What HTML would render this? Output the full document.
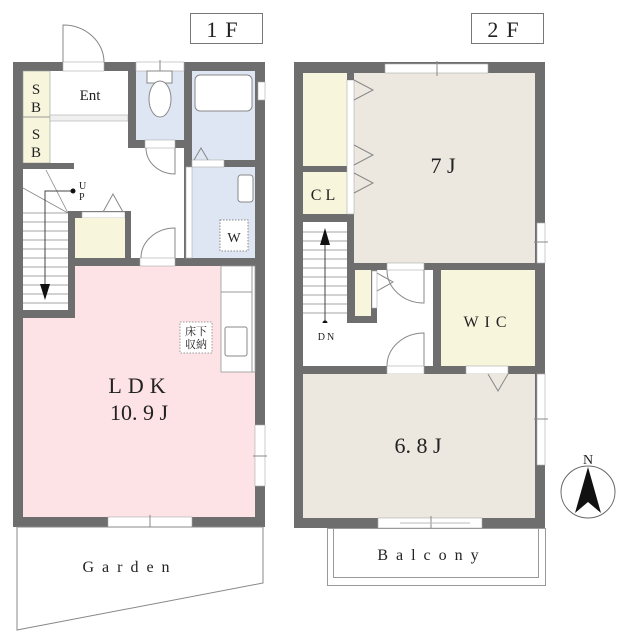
<!DOCTYPE html>
<html><head><meta charset="utf-8"><style>
html,body{margin:0;padding:0;background:#fff;width:627px;height:640px;overflow:hidden}
svg{display:block}
text{font-family:"Liberation Serif","Noto Serif CJK SC",serif;fill:#222}
</style></head><body>
<svg width="627" height="640" viewBox="0 0 627 640" xmlns="http://www.w3.org/2000/svg">
<!-- labels -->
<rect x="190.5" y="13.5" width="72" height="30" fill="#fff" stroke="#777"/>
<text x="226" y="37" font-size="22" text-anchor="middle" letter-spacing="8">1F</text>
<rect x="471.5" y="13.5" width="72" height="30" fill="#fff" stroke="#777"/>
<text x="507" y="37" font-size="22" text-anchor="middle" letter-spacing="8">2F</text>

<!-- ===== 1F ===== -->
<rect x="13" y="62" width="252" height="465" fill="#6e6e6e"/>
<!-- floors -->
<rect x="23" y="71" width="161" height="187" fill="#fff"/>
<rect x="23" y="71" width="27" height="92" fill="#f7f5dc" stroke="#999" stroke-width="0.6"/>
<line x1="23" y1="117" x2="50" y2="117" stroke="#999"/>
<rect x="50" y="115" width="78" height="6" fill="#f0f0f0" stroke="#aaa" stroke-width="0.6"/>
<rect x="128" y="62" width="8" height="86" fill="#6e6e6e"/>
<rect x="136" y="71" width="48" height="69" fill="#dfe6f3"/>
<rect x="136" y="140" width="48" height="8" fill="#6e6e6e"/>
<rect x="192" y="71" width="63" height="89" fill="#dfe6f3"/>
<rect x="195" y="75" width="57" height="36" rx="5" fill="#fff" stroke="#888"/>
<rect x="192" y="167" width="63" height="91" fill="#dfe6f3"/>
<rect x="238" y="175" width="15" height="27" rx="3" fill="#fff" stroke="#888"/>
<rect x="220" y="220" width="28" height="31" fill="#fff" stroke="#888" stroke-dasharray="1.5,1.5"/>
<text x="234" y="242" font-size="14" text-anchor="middle">W</text>
<rect x="192" y="160" width="32" height="7" fill="#fff" stroke="#aaa" stroke-width="0.6"/>
<polyline points="194,160 201,148 208,160" fill="none" stroke="#888"/>
<rect x="186" y="167" width="6" height="91" fill="#fff" stroke="#aaa" stroke-width="0.6"/>
<!-- stairs -->
<rect x="23" y="169" width="45" height="141" fill="#fff"/>
<rect x="13" y="163" width="61" height="6" fill="#6e6e6e"/>
<rect x="68" y="211" width="7" height="107" fill="#6e6e6e"/>
<rect x="13" y="310" width="62" height="8" fill="#6e6e6e"/>
<g stroke="#888" stroke-width="0.8">
<line x1="68" y1="213" x2="46" y2="170"/><line x1="68" y1="213" x2="23" y2="188"/>
<line x1="23" y1="213" x2="68" y2="213"/><line x1="23" y1="222" x2="68" y2="222"/><line x1="23" y1="231" x2="68" y2="231"/><line x1="23" y1="240" x2="68" y2="240"/><line x1="23" y1="249" x2="68" y2="249"/><line x1="23" y1="258" x2="68" y2="258"/><line x1="23" y1="267" x2="68" y2="267"/><line x1="23" y1="276" x2="68" y2="276"/><line x1="23" y1="285" x2="68" y2="285"/><line x1="23" y1="294" x2="68" y2="294"/><line x1="23" y1="303" x2="68" y2="303"/>
</g>
<polyline points="73,191 45,191 45,295" fill="none" stroke="#444"/>
<polygon points="40,284 50,284 45,300" fill="#111"/>
<circle cx="73" cy="191" r="2.5" fill="#111"/>
<text x="79" y="189" font-size="10">U</text><text x="79" y="200" font-size="10">P</text>
<!-- small storage -->
<rect x="68" y="211" width="63" height="7" fill="#6e6e6e"/>
<rect x="82" y="212" width="43" height="6" fill="#fff" stroke="#aaa" stroke-width="0.6"/>
<polyline points="103,212 113,194 123,212" fill="none" stroke="#888"/>
<rect x="125" y="211" width="6" height="55" fill="#6e6e6e"/>
<rect x="75" y="218" width="50" height="40" fill="#f7f5dc"/>
<!-- LDK -->
<rect x="75" y="266" width="180" height="251" fill="#fde2e6"/>
<rect x="23" y="318" width="52" height="199" fill="#fde2e6"/>
<rect x="140" y="258" width="35" height="8" fill="#fff" stroke="#aaa" stroke-width="0.6"/>
<rect x="221" y="266" width="34" height="106" fill="#fff" stroke="#999" stroke-width="0.8"/>
<line x1="252" y1="266" x2="252" y2="372" stroke="#999"/>
<line x1="221" y1="292" x2="252" y2="292" stroke="#999"/>
<rect x="225" y="327" width="22" height="29" rx="2" fill="#fff" stroke="#888"/>
<rect x="180" y="322" width="32" height="31" fill="#fff" stroke="#999" stroke-dasharray="1.5,1.5"/>
<text x="196" y="335" font-size="11" text-anchor="middle">床下</text>
<text x="196" y="348" font-size="11" text-anchor="middle">収納</text>
<text x="140" y="393" font-size="22" text-anchor="middle" letter-spacing="6">LDK</text>
<text x="139" y="420" font-size="22" text-anchor="middle">10. 9 J</text>
<!-- 1F texts -->
<text x="36" y="94" font-size="15" text-anchor="middle">S</text><text x="36" y="112" font-size="15" text-anchor="middle">B</text>
<text x="36" y="139" font-size="15" text-anchor="middle">S</text><text x="36" y="157" font-size="15" text-anchor="middle">B</text>
<text x="90" y="100" font-size="15" text-anchor="middle">Ent</text>
<!-- toilet -->
<rect x="136" y="62" width="48" height="9" fill="#fff" stroke="#aaa" stroke-width="0.6"/>
<line x1="160" y1="60" x2="160" y2="73" stroke="#888"/>
<rect x="147" y="71" width="25" height="12" fill="#fff" stroke="#888"/>
<ellipse cx="160" cy="99" rx="11" ry="18" fill="#fff" stroke="#888"/>
<!-- doors 1F -->
<rect x="63" y="62" width="41" height="9" fill="#fff" stroke="#aaa" stroke-width="0.6"/>
<path d="M63 62 V25 A41 37 0 0 1 104 62" fill="none" stroke="#888"/>
<rect x="145" y="140" width="30" height="8" fill="#fff" stroke="#aaa" stroke-width="0.6"/>
<path d="M175 148 V174 A29 26 0 0 1 146 148" fill="none" stroke="#888"/>
<path d="M175 258 V228 A34 30 0 0 0 141 258" fill="none" stroke="#888"/>
<rect x="258" y="82" width="7" height="18" fill="#fff" stroke="#aaa" stroke-width="0.6"/>
<rect x="255" y="425" width="10" height="61" fill="#fff" stroke="#aaa" stroke-width="0.6"/>
<line x1="253" y1="456" x2="267" y2="456" stroke="#888"/>
<rect x="108" y="517" width="84" height="10" fill="#fff" stroke="#aaa" stroke-width="0.6"/>
<line x1="150" y1="515" x2="150" y2="530" stroke="#888"/>
<!-- garden -->
<polygon points="17,527 17,630 263,583 263,527" fill="#fff" stroke="#888"/>
<text x="130" y="572" font-size="16" text-anchor="middle" letter-spacing="8">Garden</text>

<!-- ===== 2F ===== -->
<rect x="294" y="62" width="251" height="466" fill="#6e6e6e"/>
<rect x="354" y="73" width="181" height="190" fill="#ece8df"/>
<rect x="303" y="73" width="44" height="93" fill="#f7f5dc"/>
<rect x="303" y="172" width="44" height="42" fill="#f7f5dc"/>
<rect x="347" y="80" width="7" height="134" fill="#fff" stroke="#aaa" stroke-width="0.6"/>
<rect x="347" y="73" width="7" height="7" fill="#6e6e6e"/>
<g fill="none" stroke="#888"><polyline points="354,80 373,90 354,100"/><polyline points="354,145 373,155 354,165"/><polyline points="354,173 373,183 354,193"/></g>
<text x="325" y="200" font-size="16" text-anchor="middle" letter-spacing="4">CL</text>
<text x="443" y="173" font-size="22" text-anchor="middle">7 J</text>
<rect x="385" y="64" width="103" height="9" fill="#fff" stroke="#aaa" stroke-width="0.6"/>
<line x1="437" y1="61" x2="437" y2="76" stroke="#888"/>
<rect x="537" y="223" width="8" height="40" fill="#fff" stroke="#aaa" stroke-width="0.6"/>
<line x1="534" y1="242" x2="548" y2="242" stroke="#888"/>
<!-- stairs 2F -->
<rect x="303" y="222" width="44" height="101" fill="#fff"/>
<g stroke="#888" stroke-width="0.8">
<line x1="303" y1="232" x2="347" y2="232"/><line x1="303" y1="241" x2="347" y2="241"/><line x1="303" y1="250" x2="347" y2="250"/><line x1="303" y1="259" x2="347" y2="259"/><line x1="303" y1="268" x2="347" y2="268"/><line x1="303" y1="277" x2="347" y2="277"/><line x1="303" y1="286" x2="347" y2="286"/><line x1="303" y1="295" x2="347" y2="295"/><line x1="303" y1="304" x2="347" y2="304"/><line x1="303" y1="313" x2="347" y2="313"/>
</g>
<line x1="325" y1="323" x2="325" y2="240" stroke="#444"/>
<polygon points="320,245 330,245 325,228" fill="#111"/>
<circle cx="325" cy="323" r="2.5" fill="#111"/>
<!-- hall 2F -->
<rect x="303" y="323" width="130" height="43" fill="#fff"/>
<rect x="354" y="270" width="79" height="53" fill="#fff"/>
<rect x="347" y="263" width="8" height="60" fill="#6e6e6e"/>
<rect x="347" y="316" width="30" height="7" fill="#6e6e6e"/>
<rect x="355" y="270" width="16" height="46" fill="#f7f5dc"/>
<rect x="371" y="270" width="6" height="46" fill="#6e6e6e"/>
<rect x="372" y="271" width="5" height="37" fill="#fff" stroke="#aaa" stroke-width="0.6"/>
<polyline points="377,273 393,282 377,291" fill="none" stroke="#888"/>
<text x="327" y="340" font-size="10" text-anchor="middle" letter-spacing="2">DN</text>
<rect x="387" y="263" width="37" height="7" fill="#fff" stroke="#aaa" stroke-width="0.6"/>
<path d="M387 270 A37 33 0 0 0 424 303 V270" fill="none" stroke="#888"/>
<rect x="441" y="270" width="94" height="96" fill="#f7f5dc"/>
<text x="488" y="327" font-size="16" text-anchor="middle" letter-spacing="6">WIC</text>
<rect x="387" y="366" width="37" height="8" fill="#fff" stroke="#aaa" stroke-width="0.6"/>
<path d="M424 366 V333 A37 33 0 0 0 387 366" fill="none" stroke="#888"/>
<rect x="466" y="366" width="42" height="8" fill="#fff" stroke="#aaa" stroke-width="0.6"/>
<!-- 6.8J -->
<rect x="303" y="374" width="232" height="144" fill="#ece8df"/>
<polyline points="488,374 498,391 508,374" fill="none" stroke="#888"/>
<rect x="537" y="374" width="8" height="91" fill="#fff" stroke="#aaa" stroke-width="0.6"/>
<line x1="534" y1="419" x2="548" y2="419" stroke="#888"/>
<text x="418" y="453" font-size="22" text-anchor="middle">6. 8 J</text>
<rect x="378" y="518" width="104" height="10" fill="#fff" stroke="#aaa" stroke-width="0.6"/>
<line x1="431" y1="516" x2="431" y2="531" stroke="#888"/>
<line x1="400" y1="523" x2="470" y2="523" stroke="#bbb"/>
<!-- balcony -->
<rect x="327.5" y="528.5" width="218" height="57" fill="#fff" stroke="#999"/>
<rect x="333.5" y="528.5" width="205" height="49" fill="#fff" stroke="#999"/>
<text x="432" y="560" font-size="16" text-anchor="middle" letter-spacing="8">Balcony</text>
<!-- compass -->
<ellipse cx="588" cy="492" rx="27" ry="26" fill="none" stroke="#666"/>
<polygon points="588,467 575,513 588,502 601,513" fill="#111"/>
<text x="588" y="464" font-size="14" text-anchor="middle">N</text>
</svg>
</body></html>
